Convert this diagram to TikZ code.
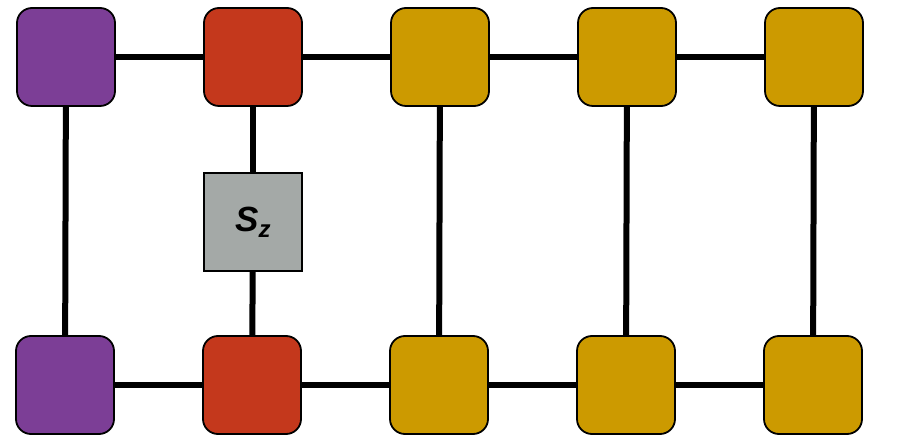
\documentclass[tikz,border=0pt]{standalone}
\usepackage{fontspec}
\setsansfont{Liberation Sans}
\usetikzlibrary{positioning}
\definecolor{sitepurple}{RGB}{124,62,150}
\definecolor{sitered}{RGB}{196,56,28}
\definecolor{sitegold}{RGB}{204,154,0}
\definecolor{opgray}{RGB}{164,169,167}

\begin{document}
\begin{tikzpicture}[x=1pt,y=1pt,node distance=187pt,
		site node/.style={rectangle,rounded corners=15pt,draw,line width=1.8pt,minimum size=98pt,inner sep=0pt},
		op node/.style={rectangle,draw,line width=1.8pt,fill=opgray,minimum size=98pt,inner sep=0pt,font=\sffamily\bfseries\itshape\fontsize{35}{35}\selectfont}]
		\useasboundingbox (0,0) rectangle (897,-443);
		
		\node[site node, fill=sitepurple] (t1) at (66,-57) {};
		\node[site node, fill=sitered] (t2) [right of=t1] {};
		\node[site node, fill=sitegold] (t3) [right of=t2] {};
		\node[site node, fill=sitegold] (t4) [right of=t3] {};
		\node[site node, fill=sitegold] (t5) [right of=t4] {};
		
		\node[site node, fill=sitepurple] (b1) at (65,-385) {};
		\node[site node, fill=sitered] (b2) [right of=b1] {};
		\node[site node, fill=sitegold] (b3) [right of=b2] {};
		\node[site node, fill=sitegold] (b4) [right of=b3] {};
		\node[site node, fill=sitegold] (b5) [right of=b4] {};
		
		\node[op node] (sz) [below of=t2, node distance=165pt] {S\raisebox{-6pt}{\fontsize{24}{24}\selectfont z}};
		
		\path[line width=6pt]
		(t1) edge (t2)
		(t2) edge (t3)
		(t3) edge (t4)
		(t4) edge (t5)
		(b1) edge (b2)
		(b2) edge (b3)
		(b3) edge (b4)
		(b4) edge (b5)
		(t1) edge (b1)
		(t2) edge (sz)
		(sz) edge (b2)
		(t3) edge (b3)
		(t4) edge (b4)
		(t5) edge (b5);
\end{tikzpicture}
\end{document}
